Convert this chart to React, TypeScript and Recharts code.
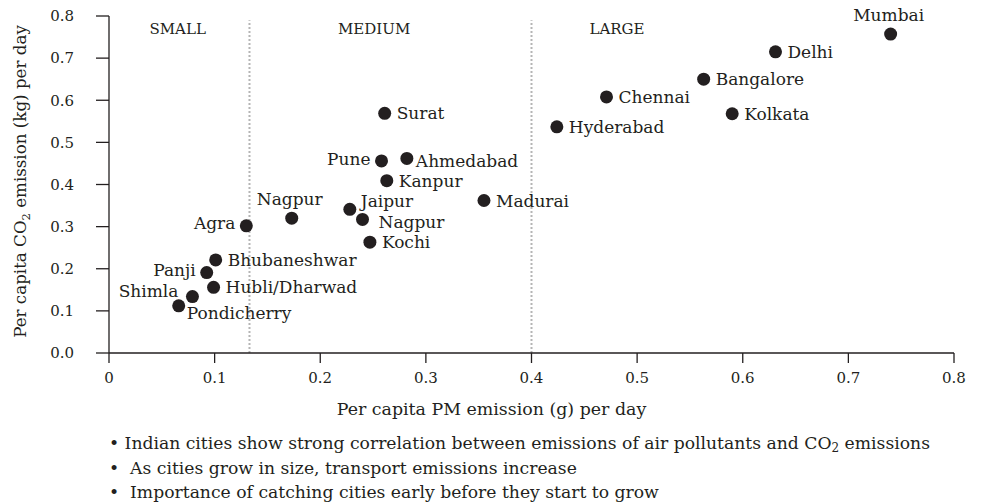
import React from "react";
import {
  ScatterChart,
  Scatter,
  XAxis,
  YAxis,
  ReferenceLine,
  ReferenceDot,
  Label,
} from "recharts";

const cities = [
  "Mumbai", "Delhi", "Bangalore", "Kolkata", "Chennai", "Hyderabad", "Surat",
  "Pune", "Ahmedabad", "Kanpur", "Madurai", "Jaipur", "Nagpur", "Kochi",
  "Nagpur", "Agra", "Bhubaneshwar", "Panji", "Hubli/Dharwad", "Shimla", "Pondicherry",
];
const pmEmission = [
  0.740, 0.631, 0.563, 0.590, 0.471, 0.424, 0.261,
  0.258, 0.282, 0.263, 0.355, 0.228, 0.240, 0.247,
  0.173, 0.130, 0.101, 0.0925, 0.099, 0.079, 0.066,
];
const co2Emission = [
  0.757, 0.715, 0.650, 0.568, 0.608, 0.537, 0.569,
  0.456, 0.462, 0.409, 0.362, 0.341, 0.317, 0.263,
  0.320, 0.302, 0.221, 0.191, 0.156, 0.134, 0.112,
];
// where each city's name sits next to its dot
const labelSide = [
  "top", "right", "right", "right", "right", "right", "right",
  "left", "rightLow", "right", "right", "topRight", "rightFar", "right",
  "top", "left", "right", "left", "right", "leftUp", "bottomRight",
];

const zoneNames = ["SMALL", "MEDIUM", "LARGE"];
const zoneLabelX = [0.065, 0.251, 0.481];
const zoneBounds = [0.133, 0.4];

const xTicks = [0, 0.1, 0.2, 0.3, 0.4, 0.5, 0.6, 0.7, 0.8];
const yTicks = [0, 0.1, 0.2, 0.3, 0.4, 0.5, 0.6, 0.7, 0.8];

const notes = [
  "Indian cities show strong correlation between emissions of air pollutants and CO",
  "As cities grow in size, transport emissions increase",
  "Importance of catching cities early before they start to grow",
];

const data = cities.map((city, i) => ({
  city,
  pm: pmEmission[i],
  co2: co2Emission[i],
  side: labelSide[i],
}));

const INK = "#231f20";
const FONT = "'DejaVu Serif', serif";

const offsets: Record<string, { dx: number; dy: number; anchor: "start" | "middle" | "end" }> = {
  right: { dx: 12, dy: 0, anchor: "start" },
  rightLow: { dx: 9, dy: 2.5, anchor: "start" },
  rightFar: { dx: 16, dy: 2, anchor: "start" },
  topRight: { dx: 11, dy: -8, anchor: "start" },
  bottomRight: { dx: 8, dy: 7, anchor: "start" },
  left: { dx: -11, dy: -2.5, anchor: "end" },
  leftUp: { dx: -14, dy: -5.5, anchor: "end" },
  top: { dx: -2, dy: -19, anchor: "middle" },
};

const CityDot = (props: any) => {
  const { cx, cy, payload } = props;
  const o = offsets[payload.side] || offsets.right;
  return (
    <g>
      <circle cx={cx} cy={cy} r={6.5} fill={INK} />
      <text
        x={cx + o.dx}
        y={cy + o.dy}
        dy="0.36em"
        textAnchor={o.anchor}
        fontFamily={FONT}
        fontSize={17}
        fill={INK}
      >
        {payload.city}
      </text>
    </g>
  );
};

const YTitle = (props: any) => {
  const { viewBox } = props;
  const cy = viewBox.y + viewBox.height / 2 - 3;
  const cx = 20;
  return (
    <text
      x={cx}
      y={cy}
      transform={`rotate(-90, ${cx}, ${cy})`}
      textAnchor="middle"
      dy="0.36em"
      fontFamily={FONT}
      fontSize={16.7}
      fill={INK}
    >
      Per capita CO
      <tspan fontSize={11.5} dy={4}>2</tspan>
      <tspan dy={-4}> emission (kg) per day</tspan>
    </text>
  );
};

const XTitle = (props: any) => {
  const { viewBox } = props;
  const cx = viewBox.x + viewBox.width / 2 - 40;
  return (
    <text
      x={cx}
      y={409}
      dy="0.36em"
      textAnchor="middle"
      fontFamily={FONT}
      fontSize={17.4}
      fill={INK}
    >
      Per capita PM emission (g) per day
    </text>
  );
};

export default function App() {
  return (
    <div style={{ position: "absolute", left: 0, top: 0, width: 981, height: 503, background: "#fff" }}>
      <ScatterChart
        width={981}
        height={503}
        margin={{ top: 16, right: 27, left: 0, bottom: 100 }}
      >
        <XAxis
          type="number"
          dataKey="pm"
          domain={[0, 0.8]}
          ticks={xTicks}
          tickFormatter={(v: number) => (v === 0 ? "0" : v.toFixed(1))}
          axisLine={{ stroke: INK, strokeWidth: 1.3 }}
          tickLine={{ stroke: INK, strokeWidth: 1.3 }}
          tickSize={10}
          tickMargin={9}
          tick={{ fill: INK, fontSize: 15, fontFamily: FONT }}
          height={50}
        >
          <Label content={<XTitle />} />
        </XAxis>
        <YAxis
          type="number"
          dataKey="co2"
          domain={[0, 0.8]}
          ticks={yTicks}
          tickFormatter={(v: number) => v.toFixed(1)}
          axisLine={{ stroke: INK, strokeWidth: 1.3 }}
          tickLine={{ stroke: INK, strokeWidth: 1.3 }}
          tickSize={13}
          tickMargin={22}
          tick={{ fill: INK, fontSize: 15, fontFamily: FONT }}
          width={109}
        >
          <Label content={<YTitle />} />
        </YAxis>
        {zoneBounds.map((b) => (
          <ReferenceLine
            key={b}
            segment={[{ x: b, y: 0 }, { x: b, y: 0.79 }]}
            stroke="#b5b5b5"
            strokeWidth={2}
            strokeDasharray="2 2"
          />
        ))}
        {zoneNames.map((z, i) => (
          <ReferenceDot
            key={z}
            x={zoneLabelX[i]}
            y={0.771}
            r={0}
            fill="none"
            stroke="none"
            label={{ value: z, position: "center", fill: INK, fontSize: 15, fontFamily: FONT }}
          />
        ))}
        <Scatter data={data} shape={<CityDot />} isAnimationActive={false} />
      </ScatterChart>
      <div
        style={{
          position: "absolute",
          left: 109,
          top: 431,
          fontFamily: FONT,
          fontSize: 17.2,
          lineHeight: "24.5px",
          color: INK,
          whiteSpace: "pre",
        }}
      >
        <div style={{ height: 24.5 }}>
          {"• " + notes[0]}
          <span style={{ fontSize: 12, position: "relative", top: 3 }}>2</span>
          {" emissions"}
        </div>
        <div>{"•  " + notes[1]}</div>
        <div>{"•  " + notes[2]}</div>
      </div>
    </div>
  );
}
